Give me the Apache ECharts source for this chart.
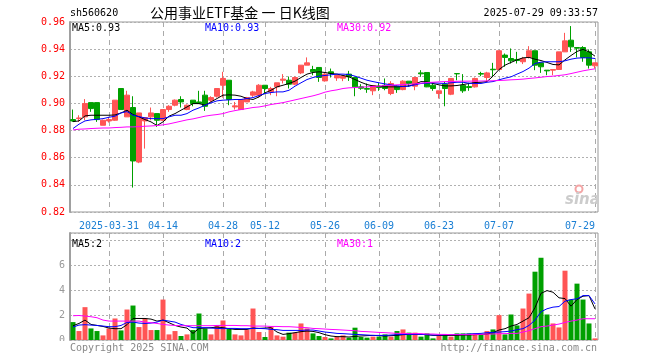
<!DOCTYPE html>
<html><head><meta charset="utf-8">
<script src="https://cdn.jsdelivr.net/npm/echarts@6/dist/echarts.min.js"></script>
<style>html,body{margin:0;padding:0;background:#fff}#c{width:660px;height:360px}</style>
</head><body><div id="c"></div>
<script>
const dates = ['2025-03-21','2025-03-24','2025-03-25','2025-03-26','2025-03-27','2025-03-28','2025-03-31','2025-04-01','2025-04-02','2025-04-03','2025-04-07','2025-04-08','2025-04-09','2025-04-10','2025-04-11','2025-04-14','2025-04-15','2025-04-16','2025-04-17','2025-04-18','2025-04-21','2025-04-22','2025-04-23','2025-04-24','2025-04-25','2025-04-28','2025-04-29','2025-04-30','2025-05-06','2025-05-07','2025-05-08','2025-05-09','2025-05-12','2025-05-13','2025-05-14','2025-05-15','2025-05-16','2025-05-19','2025-05-20','2025-05-21','2025-05-22','2025-05-23','2025-05-26','2025-05-27','2025-05-28','2025-05-29','2025-05-30','2025-06-03','2025-06-04','2025-06-05','2025-06-06','2025-06-09','2025-06-10','2025-06-11','2025-06-12','2025-06-13','2025-06-16','2025-06-17','2025-06-18','2025-06-19','2025-06-20','2025-06-23','2025-06-24','2025-06-25','2025-06-26','2025-06-27','2025-06-30','2025-07-01','2025-07-02','2025-07-03','2025-07-04','2025-07-07','2025-07-08','2025-07-09','2025-07-10','2025-07-11','2025-07-14','2025-07-15','2025-07-16','2025-07-17','2025-07-18','2025-07-21','2025-07-22','2025-07-23','2025-07-24','2025-07-25','2025-07-28','2025-07-29'];
const tickDates = ['2025-03-31','2025-04-14','2025-04-28','2025-05-12','2025-05-26','2025-06-09','2025-06-23','2025-07-07','2025-07-29'];

const opens = [.8881,.8888,.8901,.9006,.9006,.8839,.8871,.8876,.9110,.8901,
 .8970,.8568,.8871,.8901,.8925,.8876,.8955,.8987,.9029,.8955,
 .9024,.9011,.9061,.9024,.9053,.9134,.9171,.8974,.8955,.9011,
 .9061,.9061,.9134,.9085,.9122,.9171,.9171,.9142,.9225,.9282,
 .9250,.9265,.9166,.9233,.9188,.9186,.9216,.9191,.9122,.9110,
 .9093,.9127,.9134,.9073,.9127,.9102,.9164,.9127,.9225,.9228,
 .9134,.9073,.9142,.9068,.9220,.9134,.9124,.9122,.9220,.9191,
 .9252,.9250,.9356,.9331,.9324,.9307,.9339,.9388,.9299,.9245,
 .9245,.9250,.9380,.9466,.9412,.9412,.9380,.9277];
const closes = [.8871,.8893,.8999,.8962,.8881,.8876,.8881,.9024,.8955,.9061,
 .8576,.8930,.8896,.8930,.8876,.8955,.8979,.9024,.9011,.8987,
 .8999,.8999,.8979,.9043,.9110,.9184,.9029,.8982,.9029,.9043,
 .9085,.9134,.9110,.9110,.9152,.9179,.9142,.9191,.9282,.9299,
 .9233,.9191,.9216,.9220,.9206,.9201,.9196,.9122,.9112,.9105,
 .9132,.9117,.9110,.9147,.9102,.9164,.9147,.9191,.9218,.9122,
 .9110,.9093,.9110,.9184,.9218,.9093,.9117,.9184,.9216,.9225,
 .9248,.9388,.9339,.9314,.9316,.9331,.9388,.9282,.9270,.9240,
 .9250,.9380,.9461,.9417,.9407,.9339,.9282,.9299];
const lows = [.8864,.8864,.8876,.8938,.8864,.8839,.8859,.8871,.8955,.8901,
 .8380,.8560,.8667,.8876,.8827,.8871,.8938,.8979,.8970,.8950,
 .8979,.8996,.8945,.9011,.9043,.9043,.8987,.8955,.8955,.9011,
 .9048,.9043,.9068,.9061,.9053,.9147,.9110,.9134,.9216,.9282,
 .9208,.9159,.9161,.9191,.9166,.9164,.9166,.9053,.9100,.9078,
 .9061,.9093,.9097,.9061,.9078,.9097,.9122,.9097,.9196,.9120,
 .9093,.9036,.8979,.9061,.9171,.9078,.9093,.9117,.9201,.9159,
 .9196,.9245,.9270,.9294,.9294,.9290,.9331,.9245,.9225,.9208,
 .9208,.9250,.9380,.9380,.9339,.9307,.9257,.9257];
const highs = [.8955,.8913,.9032,.9006,.9006,.8881,.8901,.9024,.9110,.9093,
 .9053,.8930,.8896,.8970,.8925,.8955,.8987,.9029,.9053,.8992,
 .9024,.9093,.9093,.9053,.9110,.9233,.9171,.9011,.9029,.9048,
 .9093,.9142,.9134,.9122,.9152,.9216,.9198,.9198,.9282,.9339,
 .9277,.9265,.9225,.9257,.9208,.9206,.9240,.9191,.9142,.9147,
 .9132,.9152,.9184,.9164,.9134,.9171,.9164,.9191,.9245,.9228,
 .9152,.9093,.9159,.9184,.9220,.9216,.9152,.9191,.9233,.9233,
 .9299,.9388,.9368,.9405,.9380,.9343,.9422,.9388,.9299,.9245,
 .9250,.9380,.9520,.9570,.9412,.9422,.9398,.9299];

const ma5 = [.8866,.8871,.8908,.8913,.8913,.8913,.8913,.8915,.8930,.8950,
 .8918,.8901,.8881,.8864,.8837,.8864,.8906,.8925,.8950,.8974,
 .8999,.8999,.8987,.9011,.9036,.9061,.9063,.9061,.9053,.9036,
 .9029,.9048,.9078,.9097,.9122,.9134,.9147,.9164,.9191,.9216,
 .9228,.9233,.9228,.9220,.9216,.9206,.9196,.9176,.9156,.9139,
 .9129,.9125,.9122,.9122,.9122,.9125,.9129,.9142,.9161,.9159,
 .9147,.9137,.9129,.9129,.9132,.9139,.9147,.9154,.9156,.9161,
 .9201,.9250,.9282,.9302,.9321,.9336,.9339,.9326,.9316,.9302,
 .9287,.9284,.9321,.9353,.9383,.9398,.9380,.9348];
const ma10 = [.8815,.8847,.8871,.8879,.8883,.8888,.8898,.8906,.8930,.8940,
 .8913,.8903,.8893,.8888,.8888,.8888,.8901,.8913,.8913,.8925,
 .8950,.8967,.8987,.9004,.9019,.9024,.9026,.9029,.9029,.9036,
 .9043,.9058,.9073,.9080,.9085,.9085,.9097,.9127,.9152,.9176,
 .9191,.9201,.9206,.9211,.9216,.9216,.9213,.9201,.9186,.9171,
 .9161,.9152,.9144,.9137,.9129,.9125,.9127,.9137,.9147,.9149,
 .9152,.9149,.9147,.9152,.9156,.9156,.9149,.9147,.9147,.9156,
 .9161,.9174,.9186,.9196,.9216,.9235,.9260,.9294,.9304,.9307,
 .9307,.9307,.9314,.9326,.9334,.9336,.9336,.9331];
const ma30 = [.8805,.8810,.8812,.8815,.8817,.8819,.8819,.8822,.8824,.8827,
 .8827,.8829,.8832,.8834,.8837,.8842,.8849,.8859,.8869,.8879,
 .8886,.8896,.8906,.8913,.8918,.8925,.8938,.8947,.8955,.8962,
 .8970,.8974,.8982,.8992,.8999,.9006,.9016,.9026,.9036,.9046,
 .9056,.9068,.9083,.9093,.9100,.9110,.9115,.9117,.9120,.9122,
 .9125,.9127,.9132,.9134,.9137,.9139,.9142,.9144,.9149,.9154,
 .9156,.9159,.9161,.9162,.9163,.9164,.9164,.9165,.9165,.9166,
 .9167,.9169,.9171,.9174,.9176,.9179,.9184,.9188,.9193,.9198,
 .9201,.9206,.9211,.9220,.9230,.9240,.9248,.9255];

const volumes = [1.44,0.72,2.64,0.93,0.72,0.37,0.93,1.73,0.77,2.45,
 2.77,1.04,1.71,0.80,0.80,3.25,0.45,0.72,0.32,0.45,
 0.80,2.13,0.93,0.45,1.17,1.57,0.93,0.45,0.37,0.80,
 2.53,0.64,0.24,1.07,0.37,0.27,0.59,0.59,1.33,0.93,
 0.53,0.32,0.24,0.13,0.27,0.37,0.19,0.99,0.24,0.19,
 0.27,0.27,0.45,0.27,0.72,0.85,0.59,0.59,0.27,0.53,
 0.13,0.37,0.37,0.27,0.53,0.53,0.53,0.53,0.40,0.72,
 0.85,2.00,0.45,2.05,1.17,2.53,3.73,5.49,6.61,2.05,
 1.33,1.01,5.57,3.25,4.53,3.25,1.33,0.13];
const vma5 = [1.15,1.33,1.60,1.25,1.17,1.09,0.96,0.91,0.91,1.23,
 1.73,1.73,1.73,1.68,1.52,1.60,1.39,1.17,1.04,0.96,
 0.53,0.93,0.96,0.99,1.04,0.99,0.91,0.85,0.85,0.85,
 0.96,0.93,0.96,0.99,0.64,0.45,0.51,0.59,0.67,0.72,
 0.69,0.59,0.43,0.32,0.27,0.27,0.24,0.29,0.32,0.35,
 0.37,0.35,0.32,0.35,0.37,0.43,0.45,0.45,0.45,0.43,
 0.37,0.37,0.37,0.37,0.37,0.40,0.40,0.43,0.45,0.48,
 0.59,0.80,0.91,1.12,1.25,1.52,1.79,2.60,3.75,3.97,
 3.84,3.39,3.33,2.72,3.25,3.52,3.57,2.50];
const vma10 = [1.04,1.20,1.23,1.20,1.17,1.12,1.07,1.07,1.17,1.41,
 1.44,1.36,1.33,1.36,1.44,1.60,1.52,1.44,1.25,1.12,
 0.99,0.99,0.99,0.96,0.93,0.91,0.93,0.93,0.91,0.91,
 0.93,0.93,0.91,0.85,0.83,0.77,0.77,0.77,0.77,0.80,
 0.80,0.72,0.64,0.59,0.53,0.51,0.48,0.45,0.43,0.40,
 0.37,0.37,0.37,0.40,0.43,0.45,0.45,0.45,0.45,0.43,
 0.40,0.40,0.43,0.43,0.45,0.45,0.48,0.51,0.53,0.59,
 0.61,0.64,0.67,0.72,0.83,0.91,1.17,1.60,2.27,2.51,
 2.64,2.69,3.12,3.25,3.31,3.57,3.57,2.90];
const vma30 = [1.95,1.97,1.92,1.87,1.79,1.60,1.52,1.52,1.52,1.52,
 1.52,1.52,1.44,1.39,1.33,1.25,1.20,1.17,1.15,1.15,
 1.15,1.15,1.15,1.15,1.17,1.17,1.17,1.17,1.15,1.15,
 1.12,1.12,1.12,1.09,1.09,1.07,1.07,1.04,1.01,0.99,
 0.93,0.91,0.88,0.85,0.83,0.80,0.77,0.75,0.69,0.67,
 0.64,0.61,0.59,0.56,0.53,0.53,0.51,0.51,0.51,0.48,
 0.48,0.45,0.45,0.43,0.43,0.43,0.43,0.45,0.45,0.48,
 0.48,0.51,0.51,0.53,0.53,0.64,0.75,0.91,1.07,1.12,
 1.20,1.28,1.41,1.52,1.60,1.71,1.71,1.71];

const priceTicks = {min: 0.82, max: 0.96, step: 0.02};
const volTicks = {min: 0, max: 8.6, step: 2};

const UP = '#ff5555', DOWN = '#00a000';
const MONO = '"DejaVu Sans Mono", monospace';
const GRIDLINE = '#b0b0b0';

const candleData = dates.map((d, i) => [opens[i], closes[i], lows[i], highs[i]]);
const volData = volumes.map((v, i) => ({value: v, itemStyle: {color: closes[i] >= opens[i] ? UP : DOWN}}));

// helper half-slot categories so that each day's centre falls on a tick of a boundaryGap:false axis
const halfSlots = [];
dates.forEach((d, i) => { halfSlots.push('edge' + i); halfSlots.push(d); });
halfSlots.push('edge' + dates.length);

const chart = echarts.init(document.getElementById('c'));
const vLineAxis = gi => ({
  type: 'category', gridIndex: gi, data: halfSlots, boundaryGap: false, position: 'top',
  axisLine: {show: false}, axisTick: {show: true, length: 0}, axisLabel: {show: false},
  splitLine: {show: true, interval: (idx, val) => tickDates.indexOf(val) >= 0,
    lineStyle: {color: '#aaaaaa', type: [5, 4], width: 1}}
});

function txt(x, y, text, color, font, align) {
  return {type: 'text', x: x, y: y, z: 100,
    style: {text: text, fill: color, font: font, align: align || 'left', textAlign: align || 'left', verticalAlign: 'middle', textVerticalAlign: 'middle'}};
}

chart.setOption({
  animation: false,
  backgroundColor: '#ffffff',
  grid: [
    {left: 70, right: 62, top: 22, height: 190, show: true, backgroundColor: 'transparent', borderColor: '#999', borderWidth: 1},
    {left: 70, right: 62, top: 233, height: 107, show: true, backgroundColor: 'transparent', borderColor: '#999', borderWidth: 1}
  ],
  xAxis: [
    {type: 'category', data: dates, gridIndex: 0,
     axisLine: {show: false}, axisTick: {show: false},
     axisLabel: {show: true, color: '#1a7fd4', fontFamily: MONO, fontSize: 10, margin: 9, hideOverlap: false,
       alignMaxLabel: 'right',
       interval: (idx, val) => tickDates.indexOf(val) >= 0,
       formatter: v => v === tickDates[0] ? v : v.slice(5)}},
    {type: 'category', data: dates, gridIndex: 1,
     axisLine: {show: false}, axisTick: {show: false}, axisLabel: {show: false}},
    vLineAxis(0),
    vLineAxis(1)
  ],
  yAxis: [
    {type: 'value', gridIndex: 0, min: priceTicks.min, max: priceTicks.max, interval: priceTicks.step,
     axisLine: {show: true, lineStyle: {color: '#a0a0a0', width: 2}}, axisTick: {show: false},
     axisLabel: {color: '#ff0000', fontFamily: MONO, fontSize: 10, margin: 5, formatter: v => v.toFixed(2)},
     splitLine: {show: true, lineStyle: {color: GRIDLINE, type: [2, 2], width: 1}}},
    {type: 'value', gridIndex: 1, min: volTicks.min, max: volTicks.max, interval: volTicks.step,
     axisLine: {show: true, lineStyle: {color: '#a0a0a0', width: 2}}, axisTick: {show: false},
     axisLabel: {color: '#999', fontFamily: MONO, fontSize: 10, margin: 5, formatter: v => v > 7 ? '' : String(v)},
     splitLine: {show: true, lineStyle: {color: GRIDLINE, type: [2, 2], width: 1}}}
  ],
  series: [
    {type: 'candlestick', xAxisIndex: 0, yAxisIndex: 0, data: candleData, barWidth: 5,
     itemStyle: {color: UP, color0: DOWN, borderColor: UP, borderColor0: DOWN, borderWidth: 1}},
    {type: 'line', xAxisIndex: 0, yAxisIndex: 0, data: ma5, symbol: 'none', lineStyle: {color: '#000', width: 1}},
    {type: 'line', xAxisIndex: 0, yAxisIndex: 0, data: ma10, symbol: 'none', lineStyle: {color: '#0000ff', width: 1}},
    {type: 'line', xAxisIndex: 0, yAxisIndex: 0, data: ma30, symbol: 'none', lineStyle: {color: '#ff00ff', width: 1}},
    {type: 'bar', xAxisIndex: 1, yAxisIndex: 1, data: volData, barWidth: 5},
    {type: 'line', xAxisIndex: 1, yAxisIndex: 1, data: vma5, symbol: 'none', lineStyle: {color: '#000', width: 1}},
    {type: 'line', xAxisIndex: 1, yAxisIndex: 1, data: vma10, symbol: 'none', lineStyle: {color: '#0000ff', width: 1}},
    {type: 'line', xAxisIndex: 1, yAxisIndex: 1, data: vma30, symbol: 'none', lineStyle: {color: '#ff00ff', width: 1}}
  ],
  graphic: [
    {type: 'rect', z: 90, shape: {x: 0, y: 341, width: 660, height: 19}, style: {fill: '#ffffff'}},
    txt(70, 13, 'sh560620', '#000', '10px ' + MONO),
    txt(150, 13, '公用事业ETF基金 一 日K线图', '#000', '14px "Noto Sans CJK SC"'),
    txt(598, 13, '2025-07-29 09:33:57', '#000', '10px ' + MONO, 'right'),
    txt(72, 28, 'MA5:0.93', '#000', '10px ' + MONO),
    txt(205, 28, 'MA10:0.93', '#0000ff', '10px ' + MONO),
    txt(337, 28, 'MA30:0.92', '#ff00ff', '10px ' + MONO),
    txt(72, 244, 'MA5:2', '#000', '10px ' + MONO),
    txt(205, 244, 'MA10:2', '#0000ff', '10px ' + MONO),
    txt(337, 244, 'MA30:1', '#ff00ff', '10px ' + MONO),
    txt(70, 348, 'Copyright 2025 SINA.COM', '#888', '10px ' + MONO),
    txt(597, 348, 'http://finance.sina.com.cn', '#888', '10px ' + MONO, 'right'),
    {type: 'circle', z: 100, shape: {cx: 579, cy: 189, r: 3.5}, style: {fill: 'none', stroke: '#f3a5a5', lineWidth: 2}},
    txt(565, 200, 'sina', '#cccccc', 'italic bold 15px "DejaVu Sans"')
  ]
});
</script>
</body></html>
